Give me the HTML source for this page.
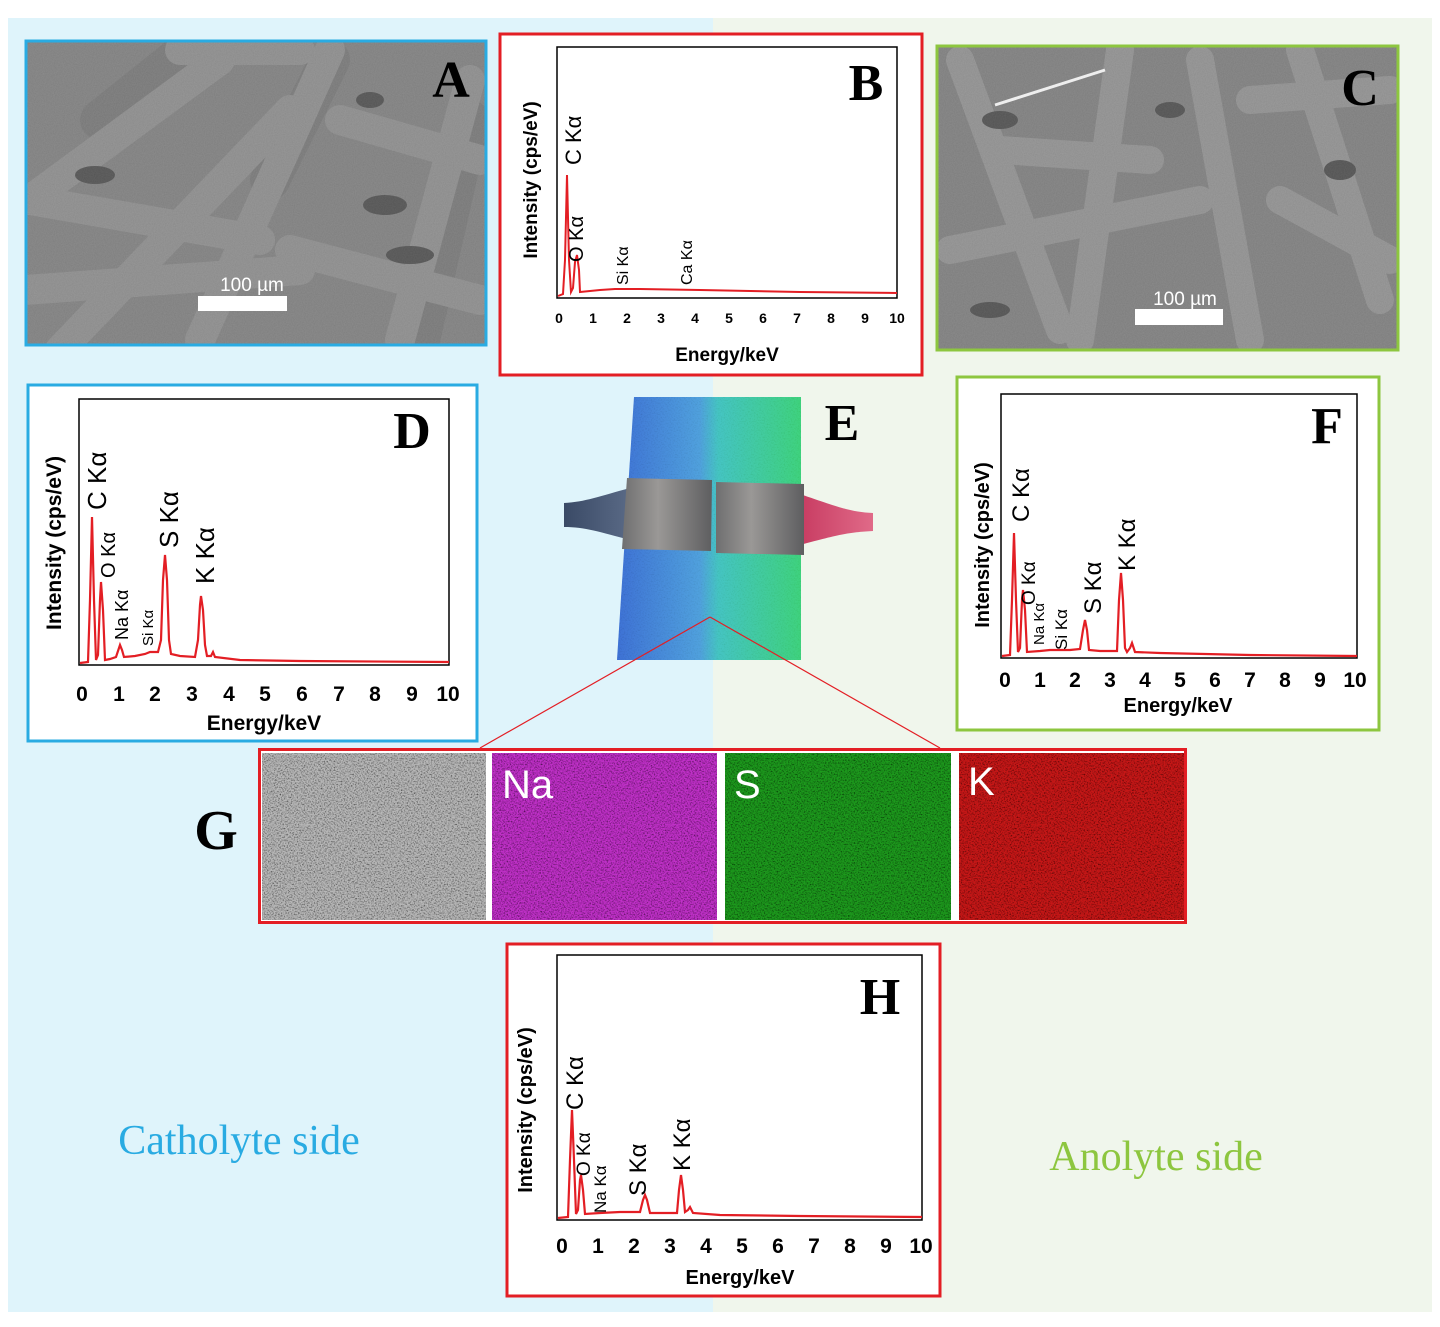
<!DOCTYPE html>
<html><head><meta charset="utf-8"><style>
html,body{margin:0;padding:0;background:#fff;}
svg{display:block;}
.ax{font-family:"Liberation Sans",sans-serif;font-weight:bold;fill:#000;}
.lb{font-family:"Liberation Sans","DejaVu Sans",sans-serif;fill:#000;}
.big{font-family:"Liberation Serif",serif;font-weight:bold;fill:#000;}
</style></head><body>
<svg width="1440" height="1327" viewBox="0 0 1440 1327" xmlns="http://www.w3.org/2000/svg">
<defs>
<clipPath id="ca"><rect x="25" y="40" width="462" height="306"/></clipPath>
<clipPath id="cc"><rect x="936" y="45" width="463" height="306"/></clipPath>
<filter id="sem" x="0" y="0" width="100%" height="100%">
 <feTurbulence type="fractalNoise" baseFrequency="0.9" numOctaves="2" seed="3" result="n"/>
 <feColorMatrix in="n" type="matrix" values="0.6 0 0 0 0.2  0.6 0 0 0 0.2  0.6 0 0 0 0.2  0 0 0 0 0.35" result="g"/>
 <feComposite in="g" in2="SourceGraphic" operator="over"/>
</filter>
<filter id="noise" x="0" y="0" width="100%" height="100%">
 <feTurbulence type="fractalNoise" baseFrequency="0.7" numOctaves="2" seed="7" result="n"/>
 <feColorMatrix in="n" type="matrix" values="0 0 0 0 0  0 0 0 0 0  0 0 0 0 0  -2 0 0 0 1.2" result="d"/>
 <feComposite in="d" in2="SourceGraphic" operator="atop"/>
</filter>
<linearGradient id="eg" x1="0" y1="0" x2="1" y2="0">
 <stop offset="0" stop-color="#3d6fd6"/><stop offset="0.45" stop-color="#52a6e0"/><stop offset="0.55" stop-color="#45d0c0"/><stop offset="1" stop-color="#3ee070"/>
</linearGradient>
<linearGradient id="pl" x1="0" y1="0" x2="1" y2="0">
 <stop offset="0" stop-color="#6f6f70"/><stop offset="0.4" stop-color="#9a9896"/><stop offset="1" stop-color="#5e5e60"/>
</linearGradient>
<linearGradient id="lc" x1="0" y1="0" x2="1" y2="0">
 <stop offset="0" stop-color="#3a4a66"/><stop offset="1" stop-color="#5a6a86"/>
</linearGradient>
<linearGradient id="rc" x1="0" y1="0" x2="1" y2="0">
 <stop offset="0" stop-color="#c83c62"/><stop offset="1" stop-color="#e06a88"/>
</linearGradient>
</defs>

<rect x="8" y="18" width="705" height="1294" fill="#dff4fb"/>
<rect x="713" y="18" width="719" height="1294" fill="#f0f6ec"/>

<!-- A -->
<g clip-path="url(#ca)">
<rect x="25" y="40" width="462" height="306" fill="#7c7c7c"/>
<g stroke="#6a6a6a" stroke-width="40" stroke-linecap="round" opacity="0.6">
<line x1="100" y1="120" x2="200" y2="40"/><line x1="270" y1="180" x2="330" y2="60"/><line x1="420" y1="340" x2="470" y2="120"/>
</g>
<g stroke="#8e8e8e" stroke-width="30" stroke-linecap="round" fill="none">
<line x1="30" y1="200" x2="220" y2="60"/><line x1="60" y1="350" x2="290" y2="110"/><line x1="200" y1="340" x2="330" y2="50"/>
<line x1="400" y1="340" x2="470" y2="80"/><line x1="30" y1="200" x2="260" y2="240"/><line x1="25" y1="290" x2="300" y2="270"/>
<line x1="290" y1="250" x2="480" y2="300"/><line x1="340" y1="120" x2="480" y2="160"/><line x1="180" y1="50" x2="300" y2="50"/>
</g>
<g fill="#3c3c3c"><ellipse cx="385" cy="205" rx="22" ry="10"/><ellipse cx="410" cy="255" rx="24" ry="9"/><ellipse cx="95" cy="175" rx="20" ry="9"/><ellipse cx="370" cy="100" rx="14" ry="8"/></g>
<rect x="25" y="40" width="462" height="306" fill="#808080" filter="url(#sem)" opacity="0.35"/>
</g>
<rect x="198" y="296" width="89" height="15" fill="#fff"/>
<text x="252" y="291" font-family="Liberation Sans,sans-serif" font-size="19" fill="#fff" text-anchor="middle">100 µm</text>
<text x="451" y="97" class="big" font-size="52" text-anchor="middle">A</text>
<rect x="26" y="41" width="460" height="304" fill="none" stroke="#29abe2" stroke-width="3"/>

<!-- C -->
<g clip-path="url(#cc)">
<rect x="936" y="45" width="463" height="306" fill="#7a7a7a"/>
<g stroke="#939393" stroke-width="28" stroke-linecap="round">
<line x1="960" y1="60" x2="1060" y2="330"/><line x1="1120" y1="50" x2="1080" y2="340"/><line x1="1200" y1="60" x2="1250" y2="340"/>
<line x1="1300" y1="50" x2="1380" y2="300"/><line x1="950" y1="250" x2="1200" y2="200"/><line x1="1250" y1="100" x2="1390" y2="90"/>
<line x1="1000" y1="150" x2="1150" y2="160"/><line x1="1280" y1="200" x2="1390" y2="260"/>
</g>
<g fill="#3a3a3a"><ellipse cx="1000" cy="120" rx="18" ry="9"/><ellipse cx="1170" cy="110" rx="15" ry="8"/><ellipse cx="1340" cy="170" rx="16" ry="10"/><ellipse cx="990" cy="310" rx="20" ry="8"/></g>
<rect x="936" y="45" width="463" height="306" fill="#808080" filter="url(#sem)" opacity="0.35"/>
</g>
<line x1="995" y1="105" x2="1105" y2="70" stroke="#eee" stroke-width="3"/>
<rect x="1135" y="309" width="88" height="16" fill="#fff"/>
<text x="1185" y="305" font-family="Liberation Sans,sans-serif" font-size="19" fill="#fff" text-anchor="middle">100 µm</text>
<text x="1360" y="105" class="big" font-size="52" text-anchor="middle">C</text>
<rect x="937" y="46" width="461" height="304" fill="none" stroke="#8dc63f" stroke-width="3"/>

<!-- B -->
<g>
<rect x="500" y="34" width="422" height="341" fill="#fff" stroke="#e31e24" stroke-width="3"/>
<rect x="557" y="47" width="340" height="251" fill="none" stroke="#000" stroke-width="1.5"/>
<polyline fill="none" stroke="#e31e24" stroke-width="2" points="558,296 563,294 565,260 567,175 569,260 571,292 573,288 575,262 577,255 579,270 580,292 590,291 600,290 615,289 640,289 700,290 800,292 897,293"/>
<g class="ax" font-size="14" text-anchor="middle">
<text x="559" y="323">0</text><text x="593" y="323">1</text><text x="627" y="323">2</text><text x="661" y="323">3</text><text x="695" y="323">4</text><text x="729" y="323">5</text><text x="763" y="323">6</text><text x="797" y="323">7</text><text x="831" y="323">8</text><text x="865" y="323">9</text><text x="897" y="323">10</text>
</g>
<text x="727" y="361" class="ax" font-size="19" text-anchor="middle">Energy/keV</text>
<text transform="translate(537,180) rotate(-90)" class="ax" font-size="19" text-anchor="middle">Intensity (cps/eV)</text>
<text transform="translate(581,165) rotate(-90)" class="lb" font-size="22">C Kα</text>
<text transform="translate(583,262) rotate(-90)" class="lb" font-size="20">O Kα</text>
<text transform="translate(628,285) rotate(-90)" class="lb" font-size="16">Si Kα</text>
<text transform="translate(692,285) rotate(-90)" class="lb" font-size="16">Ca Kα</text>
<text x="866" y="100" class="big" font-size="52" text-anchor="middle">B</text>
</g>

<!-- D -->
<g>
<rect x="28" y="385" width="449" height="356" fill="#fff" stroke="#29abe2" stroke-width="3"/>
<rect x="79" y="399" width="370" height="266" fill="none" stroke="#000" stroke-width="1.5"/>
<polyline fill="none" stroke="#e31e24" stroke-width="2.2" points="80,663 88,662 90,600 92,517 94,600 96,660 98,655 100,600 101,582 103,610 105,660 110,659 116,657 119,648 120,645 122,650 124,657 135,656 145,654 150,652 158,652 161,640 163,580 165,555 167,580 169,640 171,654 180,656 195,657 198,640 200,605 201,596 203,610 205,645 207,656 211,656 213,652 215,657 240,660 300,661 449,662"/>
<g class="ax" font-size="21" text-anchor="middle">
<text x="82" y="701">0</text><text x="119" y="701">1</text><text x="155" y="701">2</text><text x="192" y="701">3</text><text x="229" y="701">4</text><text x="265" y="701">5</text><text x="302" y="701">6</text><text x="339" y="701">7</text><text x="375" y="701">8</text><text x="412" y="701">9</text><text x="448" y="701">10</text>
</g>
<text x="264" y="730" class="ax" font-size="21" text-anchor="middle">Energy/keV</text>
<text transform="translate(61,543) rotate(-90)" class="ax" font-size="21" text-anchor="middle">Intensity (cps/eV)</text>
<text transform="translate(106,510) rotate(-90)" class="lb" font-size="26">C Kα</text>
<text transform="translate(115,578) rotate(-90)" class="lb" font-size="20">O Kα</text>
<text transform="translate(128,640) rotate(-90)" class="lb" font-size="18">Na Kα</text>
<text transform="translate(153,646) rotate(-90)" class="lb" font-size="15">Si Kα</text>
<text transform="translate(178,548) rotate(-90)" class="lb" font-size="26">S Kα</text>
<text transform="translate(214,584) rotate(-90)" class="lb" font-size="26">K Kα</text>
<text x="412" y="448" class="big" font-size="52" text-anchor="middle">D</text>
</g>

<!-- F -->
<g>
<rect x="957" y="377" width="422" height="353" fill="#fff" stroke="#8dc63f" stroke-width="3"/>
<rect x="1001" y="394" width="356" height="264" fill="none" stroke="#000" stroke-width="1.5"/>
<polyline fill="none" stroke="#e31e24" stroke-width="2.2" points="1002,656 1010,655 1012,600 1014,533 1016,600 1018,652 1020,648 1022,600 1023,590 1025,610 1027,652 1040,651 1050,650 1070,650 1080,649 1083,630 1085,620 1087,630 1089,650 1100,651 1117,651 1119,600 1121,573 1123,600 1125,648 1127,652 1130,648 1132,643 1135,652 1160,653 1250,655 1357,656"/>
<g class="ax" font-size="21" text-anchor="middle">
<text x="1005" y="687">0</text><text x="1040" y="687">1</text><text x="1075" y="687">2</text><text x="1110" y="687">3</text><text x="1145" y="687">4</text><text x="1180" y="687">5</text><text x="1215" y="687">6</text><text x="1250" y="687">7</text><text x="1285" y="687">8</text><text x="1320" y="687">9</text><text x="1355" y="687">10</text>
</g>
<text x="1178" y="712" class="ax" font-size="20" text-anchor="middle">Energy/keV</text>
<text transform="translate(989,545) rotate(-90)" class="ax" font-size="20" text-anchor="middle">Intensity (cps/eV)</text>
<text transform="translate(1029,522) rotate(-90)" class="lb" font-size="24">C Kα</text>
<text transform="translate(1035,605) rotate(-90)" class="lb" font-size="19">O Kα</text>
<text transform="translate(1044,645) rotate(-90)" class="lb" font-size="15">Na Kα</text>
<text transform="translate(1067,650) rotate(-90)" class="lb" font-size="17">Si Kα</text>
<text transform="translate(1101,614) rotate(-90)" class="lb" font-size="24">S Kα</text>
<text transform="translate(1135,571) rotate(-90)" class="lb" font-size="24">K Kα</text>
<text x="1327" y="443" class="big" font-size="52" text-anchor="middle">F</text>
</g>

<!-- E -->
<g>
<polygon points="634,397 801,397 801,660 617,660" fill="url(#eg)"/>
<polygon points="634,397 801,397 801,660 617,660" fill="#4a8ad8" filter="url(#noise)" opacity="0.15"/>
<path d="M564,503 C585,502 600,496 630,488 L630,540 C600,532 585,527 564,527 Z" fill="url(#lc)"/>
<path d="M873,513 C852,512 840,508 800,494 L800,545 C840,534 852,532 873,531 Z" fill="url(#rc)"/>
<polygon points="627,478 712,480 711,551 622,549" fill="url(#pl)"/>
<polygon points="716,482 804,484 804,555 716,553" fill="url(#pl)"/>
<text x="842" y="440" class="big" font-size="52" text-anchor="middle">E</text>
</g>
<line x1="710" y1="617" x2="480" y2="748" stroke="#e31e24" stroke-width="1.2"/>
<line x1="710" y1="617" x2="940" y2="748" stroke="#e31e24" stroke-width="1.2"/>

<!-- G -->
<g>
<rect x="258" y="748" width="929" height="176" fill="#fff"/>
<rect x="262" y="753" width="224" height="167" fill="#7a7a7a"/>
<rect x="262" y="753" width="224" height="167" fill="#b8b8b8" filter="url(#noise)"/>
<rect x="492" y="753" width="225" height="167" fill="#5a0a60"/>
<rect x="492" y="753" width="225" height="167" fill="#c030c8" filter="url(#noise)"/>
<rect x="725" y="753" width="226" height="167" fill="#0c400c"/>
<rect x="725" y="753" width="226" height="167" fill="#1e9a1e" filter="url(#noise)"/>
<rect x="959" y="753" width="225" height="167" fill="#600808"/>
<rect x="959" y="753" width="225" height="167" fill="#c81818" filter="url(#noise)"/>
<rect x="259.5" y="749.5" width="926" height="173" fill="none" stroke="#e31e24" stroke-width="3"/>
<text x="502" y="798" font-family="Liberation Sans,sans-serif" font-size="40" fill="#fff">Na</text>
<text x="734" y="798" font-family="Liberation Sans,sans-serif" font-size="40" fill="#fff">S</text>
<text x="968" y="795" font-family="Liberation Sans,sans-serif" font-size="40" fill="#fff">K</text>
<text x="216" y="849" class="big" font-size="56" text-anchor="middle">G</text>
</g>

<!-- H -->
<g>
<rect x="507" y="944" width="433" height="352" fill="#fff" stroke="#e31e24" stroke-width="3"/>
<rect x="557" y="955" width="365" height="265" fill="none" stroke="#000" stroke-width="1.5"/>
<polyline fill="none" stroke="#e31e24" stroke-width="2.2" points="558,1218 568,1217 570,1160 572,1110 574,1160 576,1214 578,1210 580,1180 581,1175 583,1190 585,1214 600,1213 620,1212 640,1212 643,1200 645,1195 647,1200 650,1213 670,1213 677,1213 679,1190 681,1175 683,1190 685,1212 688,1210 690,1207 693,1213 720,1215 800,1216 922,1217"/>
<g class="ax" font-size="21" text-anchor="middle">
<text x="562" y="1253">0</text><text x="598" y="1253">1</text><text x="634" y="1253">2</text><text x="670" y="1253">3</text><text x="706" y="1253">4</text><text x="742" y="1253">5</text><text x="778" y="1253">6</text><text x="814" y="1253">7</text><text x="850" y="1253">8</text><text x="886" y="1253">9</text><text x="921" y="1253">10</text>
</g>
<text x="740" y="1284" class="ax" font-size="20" text-anchor="middle">Energy/keV</text>
<text transform="translate(532,1110) rotate(-90)" class="ax" font-size="20" text-anchor="middle">Intensity (cps/eV)</text>
<text transform="translate(583,1110) rotate(-90)" class="lb" font-size="24">C Kα</text>
<text transform="translate(590,1176) rotate(-90)" class="lb" font-size="19">O Kα</text>
<text transform="translate(606,1213) rotate(-90)" class="lb" font-size="17">Na Kα</text>
<text transform="translate(646,1196) rotate(-90)" class="lb" font-size="24">S Kα</text>
<text transform="translate(690,1171) rotate(-90)" class="lb" font-size="24">K Kα</text>
<text x="880" y="1014" class="big" font-size="52" text-anchor="middle">H</text>
</g>

<text x="239" y="1154" font-family="Liberation Serif,serif" font-size="42" fill="#29abe2" text-anchor="middle">Catholyte side</text>
<text x="1156" y="1170" font-family="Liberation Serif,serif" font-size="42" fill="#8dc63f" text-anchor="middle">Anolyte side</text>
</svg>
</body></html>
